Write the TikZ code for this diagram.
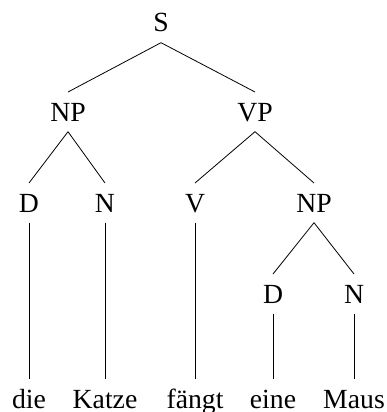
\documentclass[tikz,border=0pt]{standalone}
\usepackage{fontspec}
\setmainfont{Liberation Serif}
\begin{document}
\begin{tikzpicture}[x=1pt,y=-1pt,
  lab/.style={font=\fontsize{27.7}{30}\selectfont, inner xsep=0pt, inner ysep=10.5pt,
    text height=18.3pt, text depth=0pt, anchor=base},
  br/.style={line width=0.8pt}]
\useasboundingbox (0,0) rectangle (387,412);
\node[lab] (S) at (161,32) {S};
\node[lab] (NP1) at (68,121) {NP};
\node[lab] (VP) at (255,121) {VP};
\node[lab] (D1) at (29,212) {D};
\node[lab] (N1) at (105,212) {N};
\node[lab] (V) at (195,212) {V};
\node[lab] (NP2) at (314,212) {NP};
\node[lab] (D2) at (273,303) {D};
\node[lab] (N2) at (354,303) {N};
\node[lab] (w1) at (29,408) {die};
\node[lab] (w2) at (105,408) {Katze};
\node[lab] (w3) at (195,408) {fängt};
\node[lab] (w4) at (273,408) {eine};
\node[lab] (w5) at (354,408) {Maus};
\draw[br] (S.south) -- (NP1.north);
\draw[br] (S.south) -- (VP.north);
\draw[br] (NP1.south) -- (D1.north);
\draw[br] (NP1.south) -- (N1.north);
\draw[br] (VP.south) -- (V.north);
\draw[br] (VP.south) -- (NP2.north);
\draw[br] (NP2.south) -- (D2.north);
\draw[br] (NP2.south) -- (N2.north);
\draw[br] (D1.south) -- (w1.north);
\draw[br] (N1.south) -- (w2.north);
\draw[br] (V.south) -- (w3.north);
\draw[br] (D2.south) -- (w4.north);
\draw[br] (N2.south) -- (w5.north);
\end{tikzpicture}
\end{document}
